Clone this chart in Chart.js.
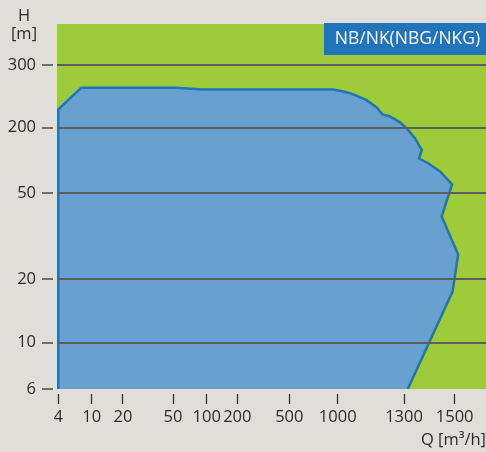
<!DOCTYPE html>
<html>
<head>
<meta charset="utf-8">
<script src="https://cdn.jsdelivr.net/npm/chart.js@4.4.1/dist/chart.umd.min.js"></script>
<style>
  html, body { margin: 0; padding: 0; background: #e1ded9; }
  canvas { display: block; }
</style>
</head>
<body>
<canvas id="range" width="486" height="452"></canvas>
<script>
const seriesLabel = 'NB/NK(NBG/NKG)';
const flowTicks = [4, 10, 20, 50, 100, 200, 500, 1000, 1300, 1500];
const headTicks = [6, 10, 20, 50, 200, 300];

// outline of the working range, Q [m3/h] and H [m]
const rangeQ = [4, 4, 7.5, 54, 91, 935, 1013, 1050, 1084, 1121, 1167, 1193, 1230, 1280, 1310, 1341, 1367, 1356, 1392, 1439, 1489, 1446, 1515, 1491, 1314];
const rangeH = [6, 225, 259, 259, 256, 256, 253.5, 250, 245, 239, 228, 218, 215, 207, 197, 160, 124, 104, 94, 79, 60, 39, 26, 17.5, 6];

// the axes are drawn piecewise: each step between tick values is log-scaled,
// but the steps themselves have their own length (value, fraction of axis)
const axisSteps = {
    x: [[3.85, 0], [4, 0.003], [10, 0.0809], [20, 0.1538], [50, 0.2704], [100, 0.349], [200, 0.4203],
        [500, 0.5415], [1000, 0.6543], [1300, 0.8089], [1500, 0.927], [1640, 1]],
    y: [[6, 0], [10, 0.1268], [20, 0.3005], [50, 0.537], [200, 0.7159], [300, 0.8877], [400, 1]]
};
const axisTicks = { x: flowTicks, y: headTicks };

class StepLogScale extends Chart.LinearScale {
    static id = 'steplog';
    static defaults = Chart.LinearScale.defaults;

    toDecimal(v) {
        const b = axisSteps[this.id];
        let i = 0;
        while (i < b.length - 2 && v > b[i + 1][0]) i++;
        const v0 = b[i][0], d0 = b[i][1], v1 = b[i + 1][0], d1 = b[i + 1][1];
        const t = Math.log(v / v0) / Math.log(v1 / v0);
        return d0 + t * (d1 - d0);
    }

    getPixelForValue(v) {
        return this.getPixelForDecimal(this.toDecimal(v));
    }

    getValueForPixel(px) {
        const d = this.getDecimalForPixel(px);
        const b = axisSteps[this.id];
        let i = 0;
        while (i < b.length - 2 && d > b[i + 1][1]) i++;
        const v0 = b[i][0], d0 = b[i][1], v1 = b[i + 1][0], d1 = b[i + 1][1];
        return v0 * Math.pow(v1 / v0, (d - d0) / (d1 - d0));
    }

    buildTicks() {
        return axisTicks[this.id].map(v => ({ value: v }));
    }
}
Chart.register(StepLogScale);

const textColor = '#2b2b2b';
const tickFont = { family: 'Open Sans', size: 16.5 };

const backdrop = {
    id: 'backdrop',
    beforeDraw(chart) {
        const { ctx, chartArea: a } = chart;
        ctx.save();
        ctx.fillStyle = '#e1ded9';
        ctx.fillRect(0, 0, chart.width, chart.height);
        ctx.fillStyle = '#9dcb3a';
        ctx.fillRect(a.left, a.top, a.right - a.left, a.bottom - a.top);
        ctx.restore();
    },
    afterDraw(chart) {
        const { ctx, chartArea: a } = chart;
        ctx.save();
        // series tag, top right corner
        ctx.fillStyle = '#1f74bc';
        ctx.fillRect(324, a.top - 1, a.right - 324, 32);
        ctx.fillStyle = '#ffffff';
        ctx.font = '17.5px "Open Sans"';
        ctx.textAlign = 'center';
        ctx.textBaseline = 'middle';
        ctx.fillText(chart.data.datasets[0].label, (329 + a.right) / 2, a.top + 15);
        // y axis caption
        ctx.font = '16.5px "Open Sans"';
        ctx.fillStyle = textColor;
        ctx.fillText('H', 24, 16);
        ctx.fillText('[m]', 24, 34);
        ctx.restore();
    }
};

const ctx = document.getElementById('range').getContext('2d');
const chart = new Chart(ctx, {
    type: 'line',
    data: {
        datasets: [{
            label: seriesLabel,
            data: rangeQ.map((q, i) => ({ x: q, y: rangeH[i] })),
            borderColor: '#1f75bd',
            backgroundColor: '#68a0d0',
            borderWidth: 2.5,
            fill: 'shape',
            pointRadius: 0,
            tension: 0
        }]
    },
    options: {
        responsive: false,
        animation: false,
        devicePixelRatio: 1,
        events: [],
        layout: { padding: { top: 24, right: 0, left: 0, bottom: 0 } },
        scales: {
            x: {
                type: 'steplog',
                min: 3.85,
                max: 1640,
                afterFit: scale => { scale.height = 63; },
                border: { display: false },
                grid: {
                    drawOnChartArea: false,
                    tickLength: 15,
                    tickColor: '#333333',
                    tickWidth: 1.3,
                    tickBorderDash: [10, 5],
                    tickBorderDashOffset: 10
                },
                ticks: {
                    autoSkip: false,
                    maxRotation: 0,
                    padding: 3,
                    color: textColor,
                    font: tickFont,
                    callback: v => String(v)
                },
                title: {
                    display: true,
                    text: 'Q [m³/h]',
                    align: 'end',
                    color: textColor,
                    font: tickFont,
                    padding: { top: 0, bottom: 2 }
                }
            },
            y: {
                type: 'steplog',
                min: 6,
                max: 400,
                afterFit: scale => { scale.width = 57; },
                border: { display: false },
                grid: {
                    z: 1,
                    lineWidth: 2,
                    color: c => (c.tick && c.tick.value === 6) ? 'rgba(0,0,0,0)' : '#5e5e5e',
                    tickLength: 15,
                    tickColor: '#333333',
                    tickWidth: 1.3,
                    tickBorderDash: [11, 4]
                },
                ticks: {
                    padding: 6,
                    color: textColor,
                    font: tickFont,
                    callback: v => String(v)
                }
            }
        },
        plugins: {
            legend: { display: false },
            tooltip: { enabled: false }
        }
    },
    plugins: [backdrop]
});
</script>
</body>
</html>
